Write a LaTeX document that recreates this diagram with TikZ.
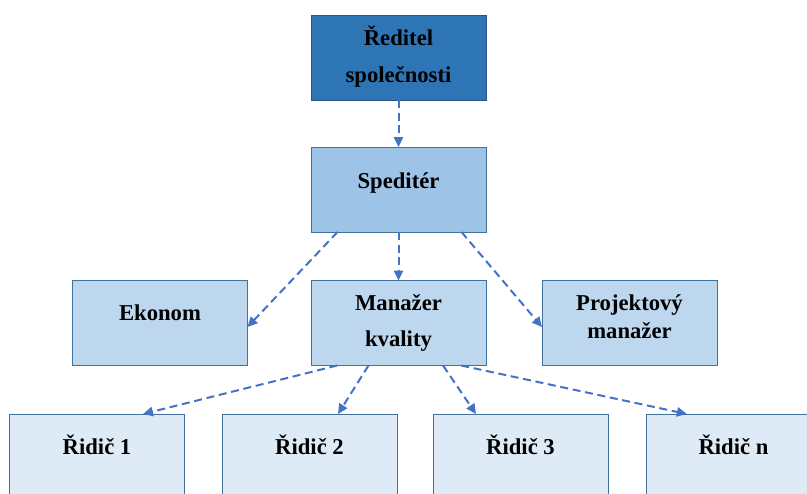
\documentclass[tikz,border=0pt]{standalone}
\usepackage{fontspec}
\setmainfont{Liberation Serif}
\usetikzlibrary{arrows.meta,calc}

\definecolor{topfill}{HTML}{2E75B6}
\definecolor{topline}{HTML}{2F528F}
\definecolor{secfill}{HTML}{9DC3E6}
\definecolor{midfill}{HTML}{BDD7EE}
\definecolor{lowfill}{HTML}{DEEBF7}
\definecolor{boxline}{HTML}{41719C}
\definecolor{linkcol}{HTML}{4472C4}

\tikzset{
  orgbox/.style={draw=boxline, line width=0.75pt, rectangle, inner sep=0pt, outer sep=0pt,
                 minimum width=131.25pt, minimum height=63.75pt},
  label text/.style={font=\fontsize{17}{20}\selectfont\bfseries, inner sep=0pt, anchor=base},
  link/.style={draw=linkcol, line width=1.5pt, dash pattern=on 6pt off 3.5pt,
               -{Triangle[length=7.5pt,width=7pt]}, shorten >=0pt}
}

\begin{document}
\begin{tikzpicture}[x=0.75pt,y=-0.75pt]
  \useasboundingbox (0,0) rectangle (807,493);
  \clip (0,0) rectangle (807,493);

  % boxes
  \node[orgbox, fill=topfill, draw=topline] (red) at (398.5,57.5) {};
  \node[orgbox, fill=secfill] (sped) at (398.5,189.5) {};
  \node[orgbox, fill=midfill] (ekon) at (160,323) {};
  \node[orgbox, fill=midfill] (man) at (398.5,323) {};
  \node[orgbox, fill=midfill] (proj) at (629.5,323) {};
  \node[orgbox, fill=lowfill] (r1) at (97,456.5) {};
  \node[orgbox, fill=lowfill] (r2) at (309.5,456.5) {};
  \node[orgbox, fill=lowfill] (r3) at (520.5,456.5) {};
  \node[orgbox, fill=lowfill] (rn) at (733.5,456.5) {};

  % labels
  \node[label text] (t-red1) at (398.5,45) {Ředitel};
  \node[label text] (t-red2) at (398.5,82) {společnosti};
  \node[label text] (t-sped) at (398.5,188) {Speditér};
  \node[label text] (t-ekon) at (160,320) {Ekonom};
  \node[label text] (t-man1) at (398.5,310) {Manažer};
  \node[label text] (t-man2) at (398.5,346) {kvality};
  \node[label text] (t-proj1) at (629.5,310.5) {Projektový};
  \node[label text] (t-proj2) at (629.5,338) {manažer};
  \node[label text] (t-r1) at (97,454) {Řidič 1};
  \node[label text] (t-r2) at (309.5,454) {Řidič 2};
  \node[label text] (t-r3) at (520.5,454) {Řidič 3};
  \node[label text] (t-rn) at (733.5,454) {Řidič n};

  % connectors
  \draw[link] (red.south) -- (sped.north);
  \draw[link] ([xshift=-45.75pt]sped.south) -- ([yshift=-3pt]ekon.east);
  \draw[link] (sped.south) -- (man.north);
  \draw[link] ([xshift=47.25pt]sped.south) -- ([yshift=-3pt]proj.west);
  \draw[link] ([xshift=-46pt]man.south) -- ([xshift=34.5pt]r1.north);
  \draw[link] ([xshift=-22.5pt]man.south) -- ([xshift=21.4pt]r2.north);
  \draw[link] ([xshift=33.4pt]man.south) -- ([xshift=-33.4pt]r3.north);
  \draw[link] ([xshift=47pt]man.south) -- ([xshift=-35pt]rn.north);
\end{tikzpicture}
\end{document}
